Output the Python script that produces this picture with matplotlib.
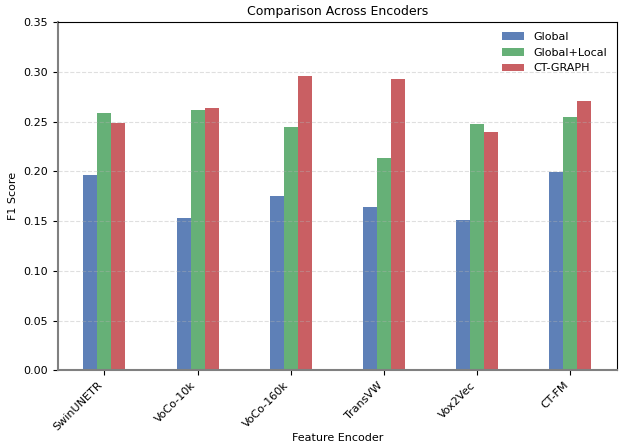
import numpy as np
import matplotlib
matplotlib.use('Agg')
import matplotlib.pyplot as plt

encoders = ['SwinUNETR', 'VoCo-10k', 'VoCo-160k', 'TransVW', 'Vox2Vec', 'CT-FM']
global_f1 = [0.196, 0.153, 0.175, 0.164, 0.151, 0.199]
global_local_f1 = [0.259, 0.262, 0.245, 0.213, 0.248, 0.255]
ct_graph_f1 = [0.249, 0.264, 0.296, 0.293, 0.240, 0.271]

fig, ax = plt.subplots(figsize=(6.23, 4.45), dpi=100)
fig.subplots_adjust(left=0.093, right=0.99, top=0.95, bottom=0.168)

x = np.arange(len(encoders))
w = 0.15
ax.bar(x - w, global_f1, w, label='Global', color='#4C72B0', alpha=0.9)
ax.bar(x, global_local_f1, w, label='Global+Local', color='#55A868', alpha=0.9)
ax.bar(x + w, ct_graph_f1, w, label='CT-GRAPH', color='#C44E52', alpha=0.9)

ax.set_ylim(0, 0.35)
ax.set_yticks(np.arange(0, 0.351, 0.05))
ax.set_yticklabels([f'{v:.2f}' for v in np.arange(0, 0.351, 0.05)], fontsize=8)
ax.set_xticks(x)
ax.set_xticklabels(encoders, rotation=45, ha='right', fontsize=8)
ax.set_xlabel('Feature Encoder', fontsize=8, labelpad=0)
ax.set_ylabel('F1 Score', fontsize=8)
ax.set_title('Comparison Across Encoders', fontsize=9, pad=5)

ax.yaxis.grid(True, linestyle='--', alpha=0.4)
ax.spines['left'].set_color('gray')
ax.spines['bottom'].set_color('gray')
ax.spines['left'].set_linewidth(1.5)
ax.spines['bottom'].set_linewidth(1.5)

ax.legend(frameon=False, fontsize=8, loc='upper right')

plt.savefig('out.png')
